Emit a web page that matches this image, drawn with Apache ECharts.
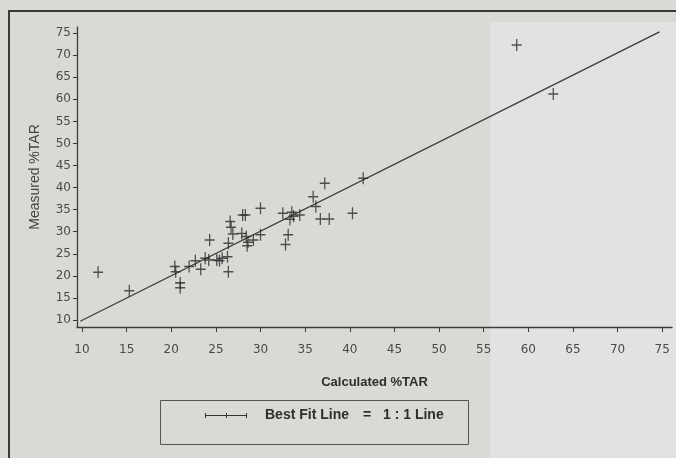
<!DOCTYPE html>
<html>
<head>
<meta charset="utf-8">
<script src="https://cdn.jsdelivr.net/npm/echarts@6/dist/echarts.min.js"></script>
<style>
html,body{margin:0;padding:0;background:#d9d9d5;}
#chart{width:676px;height:458px;}
</style>
</head>
<body>
<div id="chart"></div>
<script>
// Data
const calculated = [11.8, 15.3, 20.4, 20.5, 21.0, 21.0, 22.0, 22.7, 23.3, 23.8, 24.2, 24.3, 25.1, 25.4, 25.7, 26.3, 26.4, 26.4, 26.6, 26.7, 26.9, 27.9, 28.0, 28.3, 28.4, 28.5, 28.6, 29.2, 30.0, 30.0, 32.5, 32.8, 33.1, 33.3, 33.5, 33.7, 34.4, 35.9, 36.2, 36.7, 37.2, 37.7, 40.3, 41.5, 58.7, 62.8];
const measured   = [20.8, 16.6, 22.1, 20.9, 18.4, 17.3, 22.1, 23.4, 21.5, 24.0, 23.6, 28.1, 23.6, 23.4, 24.0, 24.3, 20.9, 27.4, 32.3, 31.0, 29.5, 29.6, 33.8, 33.8, 28.9, 26.8, 27.6, 28.1, 35.3, 29.3, 34.2, 27.1, 29.3, 32.8, 34.4, 33.5, 33.8, 37.9, 35.7, 32.9, 41.0, 32.9, 34.2, 42.1, 72.3, 61.2];
const fitLineX = [9.8, 74.7];
const fitLineY = [9.7, 75.3];
const xTicks = [10, 15, 20, 25, 30, 35, 40, 45, 50, 55, 60, 65, 70, 75];
const yTicks = [10, 15, 20, 25, 30, 35, 40, 45, 50, 55, 60, 65, 70, 75];
const xTitle = 'Calculated %TAR';
const yTitle = 'Measured %TAR';
const legendText = 'Best Fit Line';
const legendText2 = '1 : 1 Line';

const points = calculated.map((v, i) => [v, measured[i]]);
const fitLine = fitLineX.map((v, i) => [v, fitLineY[i]]);

const ink = '#3c3c3c';
const chart = echarts.init(document.getElementById('chart'), null, {renderer: 'canvas'});
chart.setOption({
  backgroundColor: '#d9d9d5',
  animation: false,
  grid: {left: 77, right: 4, top: 27, bottom: 131, containLabel: false},
  xAxis: {
    type: 'value', min: 9.44, max: 76.1,
    name: xTitle, nameLocation: 'middle', nameGap: 49,
    nameTextStyle: {fontFamily: 'Liberation Sans', fontSize: 13, fontWeight: 'bold', color: '#2e2e2e'},
    axisLine: {show: true, lineStyle: {color: ink, width: 1.3}},
    axisTick: {show: true, length: 5, customValues: xTicks, lineStyle: {color: ink}},
    axisLabel: {customValues: xTicks, margin: 17, fontFamily: 'DejaVu Sans', fontSize: 12, color: '#4a4a4a'},
    splitLine: {show: false}
  },
  yAxis: {
    type: 'value', min: 8.4, max: 76.4,
    name: yTitle, nameLocation: 'middle', nameGap: 35,
    nameTextStyle: {fontFamily: 'Liberation Sans', fontSize: 14, color: '#444'},
    axisLine: {show: true, lineStyle: {color: ink, width: 1.3}},
    axisTick: {show: true, length: 4, customValues: yTicks, lineStyle: {color: ink}},
    axisLabel: {customValues: yTicks, margin: 6, fontFamily: 'DejaVu Sans', fontSize: 12, color: '#4a4a4a'},
    splitLine: {show: false}
  },
  series: [
    {
      type: 'line', data: fitLine, symbol: 'none',
      lineStyle: {color: '#3a3a3a', width: 1.3}, z: 2
    },
    {
      type: 'scatter', data: points,
      symbol: 'path://M0,6 L10,6 M5,0 L5,12',
      symbolSize: [10, 12],
      itemStyle: {color: 'rgba(0,0,0,0)', borderColor: '#2a2a2a', borderWidth: 1.4},
      z: 3
    }
  ],
  graphic: [
    {type: 'rect', z: -10, shape: {x: 490, y: 22, width: 186, height: 436}, style: {fill: '#e1e2e1'}},
    {type: 'line', z: 10, shape: {x1: 8, y1: 11, x2: 676, y2: 11}, style: {stroke: '#3a3a3a', lineWidth: 2}},
    {type: 'line', z: 10, shape: {x1: 9, y1: 10, x2: 9, y2: 458}, style: {stroke: '#3a3a3a', lineWidth: 2}},
    {type: 'rect', z: 10, shape: {x: 160.5, y: 400.5, width: 308, height: 44}, style: {fill: 'rgba(0,0,0,0)', stroke: '#555', lineWidth: 1}},
    {type: 'line', z: 10, shape: {x1: 205, y1: 415.5, x2: 247, y2: 415.5}, style: {stroke: '#333', lineWidth: 1}},
    {type: 'line', z: 10, shape: {x1: 205.5, y1: 413, x2: 205.5, y2: 418}, style: {stroke: '#333', lineWidth: 1}},
    {type: 'line', z: 10, shape: {x1: 226.5, y1: 413, x2: 226.5, y2: 418}, style: {stroke: '#333', lineWidth: 1}},
    {type: 'line', z: 10, shape: {x1: 246.5, y1: 413, x2: 246.5, y2: 418}, style: {stroke: '#333', lineWidth: 1}},
    {type: 'text', z: 10, x: 265, y: 415, style: {text: legendText, font: 'bold 14px "Liberation Sans"', fill: '#2e2e2e', verticalAlign: 'middle'}},
    {type: 'text', z: 10, x: 367, y: 415, style: {text: '=', font: 'bold 14px "Liberation Sans"', fill: '#2e2e2e', verticalAlign: 'middle', align: 'center'}},
    {type: 'text', z: 10, x: 383, y: 415, style: {text: legendText2, font: 'bold 14px "Liberation Sans"', fill: '#2e2e2e', verticalAlign: 'middle'}}
  ]
});
</script>
</body>
</html>
